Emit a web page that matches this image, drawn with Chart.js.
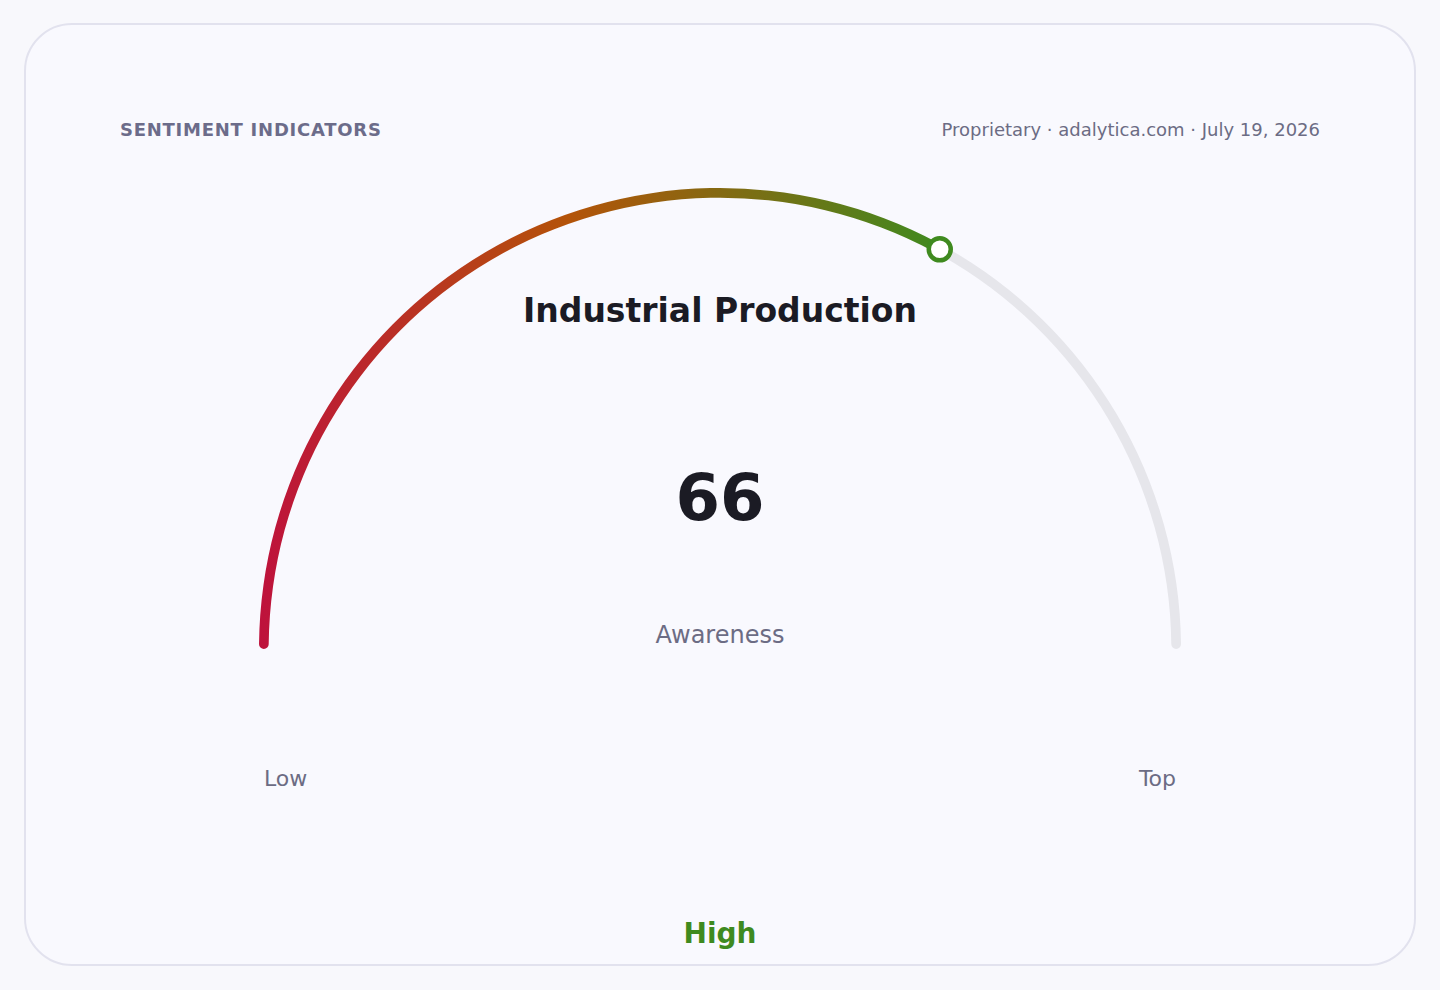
<!DOCTYPE html>
<html>
<head>
<meta charset="utf-8">
<script src="https://cdn.jsdelivr.net/npm/chart.js@4.4.1/dist/chart.umd.min.js"></script>
<style>
  html, body { margin: 0; padding: 0; background: #f8f8fc; }
  body { width: 1440px; height: 990px; position: relative; overflow: hidden;
         font-family: "DejaVu Sans", sans-serif; }
  .card { position: absolute; left: 24px; top: 23px; width: 1388px; height: 939px;
          border: 2px solid #e2e2ee; border-radius: 48px; background: #f9f9fe; }
  .txt { position: absolute; white-space: nowrap; line-height: 1; }
  #kicker { left: 120px; top: 121px; font-size: 18px; font-weight: bold;
            letter-spacing: 0.75px; color: #6c6c8a; }
  #source { right: 120px; top: 121px; font-size: 18px; color: #6c6c84; }
  .center { left: 0; width: 1440px; text-align: center; }
  #title { top: 294px; font-size: 33px; font-weight: bold; color: #1b1b24; }
  #value { top: 466px; font-size: 64px; font-weight: bold; color: #1b1b24; }
  #metric { top: 623px; font-size: 24px; color: #6c6c84; }
  #low { left: 264px; top: 768px; font-size: 22px; color: #6c6c84; }
  #top { right: 264px; top: 768px; font-size: 22px; color: #6c6c84; }
  #band { top: 920px; font-size: 28px; font-weight: bold; color: #3f8a1f; }
  #gaugeBox { position: absolute; left: 259px; top: 187px; width: 922px; height: 463px; }
</style>
</head>
<body>
<div class="card"></div>
<div class="txt" id="kicker">SENTIMENT INDICATORS</div>
<div class="txt" id="source">Proprietary · adalytica.com · July 19, 2026</div>
<div class="txt center" id="title"></div>
<div class="txt center" id="value"></div>
<div class="txt center" id="metric"></div>
<div class="txt" id="low"></div>
<div class="txt" id="top"></div>
<div class="txt center" id="band"></div>
<div id="gaugeBox"><canvas id="gauge"></canvas></div>

<script>
// gauge data
const indicator = 'Industrial Production';
const metricLabel = 'Awareness';
const gaugeValue = [66];
const gaugeMax = [100];
const scaleLabels = ['Low', 'Top'];
const bandLabel = ['High'];

document.getElementById('title').textContent = indicator;
document.getElementById('value').textContent = gaugeValue[0];
document.getElementById('metric').textContent = metricLabel;
document.getElementById('low').textContent = scaleLabels[0];
document.getElementById('top').textContent = scaleLabels[1];
document.getElementById('band').textContent = bandLabel[0];

const markerPlugin = {
    id: 'marker',
    afterDatasetsDraw(chart) {
        const arc = chart.getDatasetMeta(0).data[0];
        if (!arc) return;
        const r = (arc.outerRadius + arc.innerRadius) / 2;
        const x = arc.x + r * Math.cos(arc.endAngle);
        const y = arc.y + r * Math.sin(arc.endAngle);
        const c = chart.ctx;
        c.save();
        c.beginPath();
        c.arc(x, y, 11, 0, Math.PI * 2);
        c.fillStyle = '#ffffff';
        c.fill();
        c.lineWidth = 4.5;
        c.strokeStyle = '#3f8a1f';
        c.stroke();
        c.restore();
    }
};

// value arc gets a red -> orange -> green sweep, the rest is a grey track
function arcColor(context) {
    if (context.dataIndex !== 0) return '#e6e6eb';
    const chart = context.chart;
    const area = chart.chartArea;
    if (!area) return '#b45309';
    const cx = (area.left + area.right) / 2;
    const R = (area.right - area.left) / 2;
    const endX = cx + R * Math.cos(Math.PI - Math.PI * gaugeValue[0] / gaugeMax[0]);
    const g = chart.ctx.createLinearGradient(area.left, 0, endX, 0);
    g.addColorStop(0, '#be123c');
    g.addColorStop(0.45, '#b45309');
    g.addColorStop(1, '#3f8a1f');
    return g;
}

new Chart(document.getElementById('gauge').getContext('2d'), {
    type: 'doughnut',
    data: {
        labels: ['value', 'rest'],
        datasets: [{
            data: [gaugeValue[0], gaugeMax[0] - gaugeValue[0]],
            backgroundColor: arcColor,
            borderWidth: 0,
            borderRadius: 5,
            hoverOffset: 0,
            offset: 0
        }]
    },
    options: {
        responsive: true,
        maintainAspectRatio: false,
        animation: false,
        events: [],
        rotation: -90,
        circumference: 180,
        cutout: '97.9%',
        layout: { padding: 0 },
        plugins: {
            legend: { display: false },
            tooltip: { enabled: false }
        }
    },
    plugins: [markerPlugin]
});
</script>
</body>
</html>
